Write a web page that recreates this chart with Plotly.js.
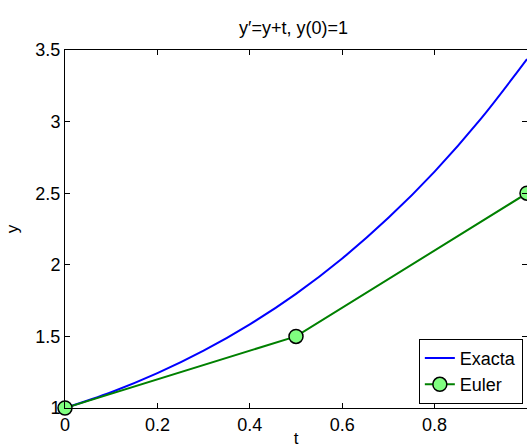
<!DOCTYPE html>
<html>
<head>
<meta charset="utf-8">
<script src="https://cdn.plot.ly/plotly-3.0.1.min.js"></script>
<style>html,body{margin:0;padding:0;background:#fff;}#chart{width:527px;height:448px;}</style>
</head>
<body>
<div id="chart"></div>
<script>
// Exact solution values
const tExact = [0, 0.1, 0.2, 0.3, 0.4, 0.5, 0.6, 0.7, 0.8, 0.9, 1.0];
const yExact = [1.0, 1.110, 1.243, 1.400, 1.584, 1.797, 2.044, 2.328, 2.651, 3.019, 3.437];
// Euler method points (h = 0.5)
const tEuler = [0, 0.5, 1.0];
const yEuler = [1.0, 1.5, 2.5];
const xTicks = [0, 0.2, 0.4, 0.6, 0.8, 1];
const xTickText = ['0', '0.2', '0.4', '0.6', '0.8', '1'];
const yTicks = [1, 1.5, 2, 2.5, 3, 3.5];
const yTickText = ['1', '1.5', '2', '2.5', '3', '3.5'];

const font = 'Liberation Sans, Arial, Helvetica, sans-serif';

const traces = [
  {x: tExact, y: yExact, name: 'Exacta', mode: 'lines', type: 'scatter',
   line: {color: '#0000ff', width: 2, shape: 'spline'}, cliponaxis: false},
  {x: tEuler, y: yEuler, name: 'Euler', mode: 'lines+markers', type: 'scatter',
   line: {color: '#008000', width: 2},
   marker: {symbol: 'circle', size: 14, color: '#80ff80', line: {color: '#000000', width: 1.5}},
   cliponaxis: false}
];

const axisCommon = {
  showline: true, linecolor: '#000', linewidth: 1, mirror: 'ticks',
  ticks: 'inside', ticklen: 5, tickcolor: '#000', tickwidth: 1,
  showgrid: false, zeroline: false, tickfont: {family: font, size: 18, color: '#000'},
  tickmode: 'array'
};

const layout = {
  width: 527, height: 448,
  margin: {l: 65, r: 0, t: 50, b: 40},
  paper_bgcolor: '#fff', plot_bgcolor: '#fff',
  title: {text: 'y′=y+t, y(0)=1', font: {family: font, size: 18, color: '#000'},
          x: 0.557, xanchor: 'center', y: 0.9375, yanchor: 'middle'},
  xaxis: Object.assign({}, axisCommon, {
    range: [0, 1], tickvals: xTicks, ticktext: xTickText,
    title: {text: 't', font: {family: font, size: 17, color: '#000'}, standoff: 4}
  }),
  yaxis: Object.assign({}, axisCommon, {
    range: [1, 3.5], tickvals: yTicks, ticktext: yTickText,
    title: {text: 'y', font: {family: font, size: 17, color: '#000'}, standoff: 12}
  }),
  showlegend: true,
  legend: {x: 0.991, xanchor: 'right', y: 0.012, yanchor: 'bottom',
           bgcolor: '#fff', bordercolor: '#000', borderwidth: 1,
           font: {family: font, size: 18, color: '#000'}, tracegroupgap: 0}
};

Plotly.newPlot('chart', traces, layout, {staticPlot: true, displayModeBar: false});
</script>
</body>
</html>
